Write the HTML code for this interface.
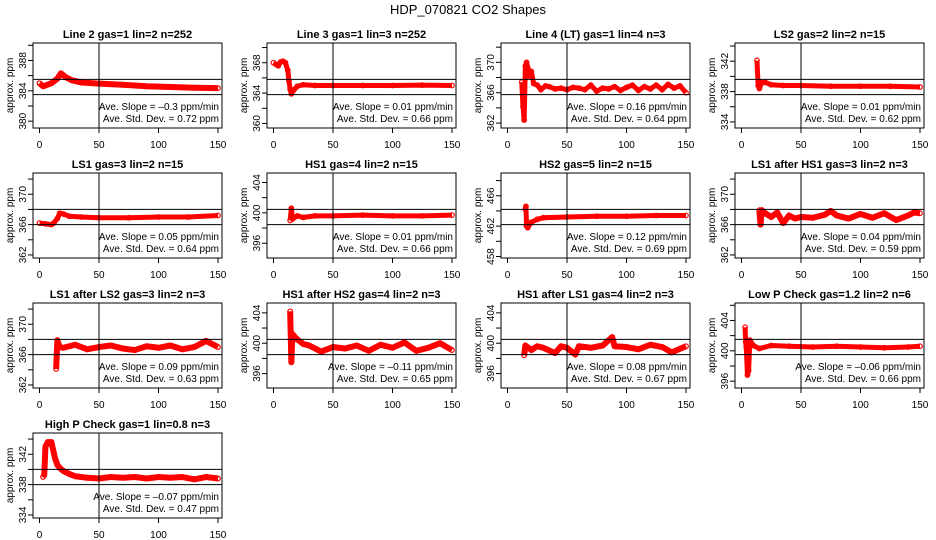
<!DOCTYPE html>
<html><head><meta charset="utf-8"><style>
body{margin:0;background:#fff;}
svg{display:block;font-family:"Liberation Sans",sans-serif;}
</style></head><body>
<svg id="chart" width="936" height="540" viewBox="0 0 936 540" xmlns="http://www.w3.org/2000/svg">
<rect width="936" height="540" fill="#fff"/>
<text x="468" y="14" text-anchor="middle" font-size="13">HDP_070821  CO2 Shapes</text>
</svg>
<script>
const titles=["Line 2 gas=1 lin=2 n=252","Line 3 gas=1 lin=3 n=252","Line 4 (LT) gas=1 lin=4 n=3","LS2 gas=2 lin=2 n=15","LS1 gas=3 lin=2 n=15","HS1 gas=4 lin=2 n=15","HS2 gas=5 lin=2 n=15","LS1 after HS1 gas=3 lin=2 n=3","LS1 after LS2 gas=3 lin=2 n=3","HS1 after HS2 gas=4 lin=2 n=3","HS1 after LS1 gas=4 lin=2 n=3","Low P Check gas=1.2 lin=2 n=6","High P Check gas=1 lin=0.8 n=3"];
const means=[384.5,364.8,366.75,338.6,367.0,399.45,463.2,367.0,367.0,399.5,399.5,400.5,339.0];
const yLabels=[[380,384,388],[360,364,368],[362,366,370],[334,338,342],[362,366,370],[396,400,404],[458,462,466],[362,366,370],[362,366,370],[396,400,404],[396,400,404],[396,400,404],[334,338,342]];
const slopes=["\u20130.3","0.01","0.16","0.01","0.05","0.01","0.12","0.04","0.09","\u20130.11","0.08","\u20130.06","\u20130.07"];
const stds=["0.72","0.66","0.64","0.62","0.64","0.66","0.69","0.59","0.63","0.65","0.67","0.66","0.47"];
const xTicks=[0,50,100,150];
const xs0=[0,3,5,10,15,18,22,27,35,50,70,90,110,130,150];
const ys0=[385.0,384.6,384.7,385.0,385.6,386.3,385.8,385.4,385.1,384.95,384.8,384.6,384.5,384.4,384.35];
const xs1=[0,2,4,6,8,10,12,13,14,15,17,20,25,35,50,75,100,125,150];
const ys1=[368.0,367.8,367.6,368.1,368.2,368.0,367.0,365.6,364.5,363.9,364.4,364.9,365.1,365.0,365.0,365.0,365.0,365.05,365.0];
const xs2=[12,13,14,15,16,17,18,20,22,25,28,32,35,40,45,50,55,60,65,70,75,80,85,90,95,100,105,110,115,120,125,130,135,140,145,150];
const ys2=[367.4,364.2,362.4,369.5,370.0,369.3,368.2,368.8,367.2,367.0,366.4,366.9,366.8,366.5,366.6,366.4,366.7,366.6,366.4,367.0,366.2,366.6,366.5,366.8,366.3,366.7,367.0,366.3,366.8,366.5,367.0,366.4,367.1,366.6,366.9,366.0];
const xs3=[13,14,15,17,20,25,35,50,75,100,125,150];
const ys3=[342.1,338.8,338.4,339.2,339.2,338.9,338.8,338.8,338.7,338.7,338.7,338.6];
const xs4=[0,5,10,12,15,17,20,25,35,50,75,100,125,150];
const ys4=[366.2,366.1,366.0,366.2,366.8,367.5,367.4,367.1,367.0,366.9,366.9,367.0,367.0,367.2];
const xs5=[14,15,16,20,25,35,50,75,100,125,150];
const ys5=[399.0,400.6,399.2,399.6,399.4,399.6,399.6,399.7,399.6,399.6,399.7];
const xs6=[15,15.5,16,17,20,25,30,50,75,100,125,150];
const ys6=[464.2,464.6,462.0,461.8,462.5,462.9,463.1,463.2,463.3,463.3,463.4,463.4];
const xs7=[15,16,17,20,25,30,35,40,45,50,60,70,75,80,90,100,110,120,130,140,145,150];
const ys7=[367.9,366.0,367.9,367.5,367.0,367.6,366.2,367.2,366.8,367.0,366.9,367.3,367.8,367.2,366.8,367.4,366.9,367.5,366.6,367.2,367.6,367.5];
const xs8=[14,15,17,20,25,30,40,50,60,70,80,90,100,110,120,130,140,150];
const ys8=[364.1,367.9,367.0,366.9,367.1,367.3,366.7,367.0,367.2,366.8,366.6,367.1,366.9,367.2,366.7,367.0,367.8,367.0];
const xs9=[14,15,15.5,16,18,20,25,30,40,50,60,70,80,90,100,110,120,130,140,150];
const ys9=[404.2,397.5,399.6,401.2,400.8,400.5,399.9,399.7,398.9,399.5,399.3,399.7,399.0,399.8,399.4,400.1,399.0,399.4,400.0,399.1];
const xs10=[14,15,20,25,30,40,45,50,57,60,70,80,88,90,100,110,120,130,138,150];
const ys10=[398.4,399.7,399.1,399.6,399.4,398.7,399.6,399.4,398.5,399.6,399.4,399.7,400.8,399.6,399.5,399.2,399.8,399.5,398.8,399.6];
const xs11=[3,3.5,4,5,6,7,10,15,25,40,60,80,100,120,140,150];
const ys11=[403.1,401.2,400.5,396.8,397.4,401.4,400.7,400.3,400.7,400.6,400.5,400.6,400.5,400.4,400.5,400.6];
const xs12=[3,4,5,7,10,12,13,15,17,20,25,30,40,50,60,70,80,90,100,110,120,130,140,150];
const ys12=[339.0,339.3,343.0,343.6,343.6,342.2,341.5,340.6,340.2,339.8,339.4,339.1,338.9,338.8,339.0,338.9,339.0,338.8,339.0,338.9,339.0,338.7,339.0,338.8];
const allX=[xs0,xs1,xs2,xs3,xs4,xs5,xs6,xs7,xs8,xs9,xs10,xs11,xs12];
const allY=[ys0,ys1,ys2,ys3,ys4,ys5,ys6,ys7,ys8,ys9,ys10,ys11,ys12];
const bandW=[6,5,5,5,5,5,5,6,6,6,6,5,6];

const svg=document.getElementById('chart');
const NS='http://www.w3.org/2000/svg';
function mk(tag,attrs,parent){const e=document.createElementNS(NS,tag);for(const k in attrs)e.setAttribute(k,attrs[k]);parent.appendChild(e);return e;}
const L=33,R=222,T=23,B=108;
for(let i=0;i<13;i++){
  const col=i%4,row=Math.floor(i/4);
  const g=mk('g',{transform:`translate(${234*col},${20+130*row})`},svg);
  
  
  const m=means[i];
  const yTop=m+5.8,yBot=m-5.4;
  const sx=v=>39.5+v*(218-39.5)/150;
  const sy=v=>T+(yTop-v)*(B-T)/(yTop-yBot);
  const t=mk('text',{x:127.5,y:18,'text-anchor':'middle','font-size':11,'font-weight':'bold'},g);t.textContent=titles[i];
  
  
  const box=mk('rect',{x:L,y:T,width:R-L,height:B-T,fill:'none',stroke:'#000','stroke-width':1},g);
  
  
  const xsA=allX[i],ysA=allY[i];
  const pl=mk('polyline',{points:xsA.map((x,j)=>sx(x)+','+sy(ysA[j])).join(' '),fill:'none',stroke:'#f00','stroke-width':bandW[i],'stroke-linejoin':'round'},g);
  
  
  xsA.forEach((x,j)=>{const c=mk('circle',{cx:sx(x),cy:sy(ysA[j]),r:2.3,fill:'none',stroke:'#f00','stroke-width':1.2},g);
    
    });
  const vl=mk('line',{x1:sx(50),x2:sx(50),y1:T,y2:B,stroke:'#000'},g);
  
  
  [m+1,m-1].forEach(h=>{const hl=mk('line',{x1:L,x2:R,y1:sy(h),y2:sy(h),stroke:'#000'},g);
    
    });
  xTicks.forEach(v=>{mk('line',{x1:sx(v),x2:sx(v),y1:B,y2:B+5,stroke:'#000'},g);
    const tx=mk('text',{x:sx(v),y:128,'text-anchor':'middle','font-size':10},g);tx.textContent=v;
    
    });
  const yl=yLabels[i];
  for(let v=yl[0]-2;v<=yl[2]+2;v+=2){if(v<yBot||v>yTop)continue;mk('line',{x1:L-5,x2:L,y1:sy(v),y2:sy(v),stroke:'#000'},g);}
  yl.forEach(v=>{const ty=mk('text',{x:0,y:0,'text-anchor':'middle','font-size':10,transform:`translate(26,${sy(v)}) rotate(-90)`},g);ty.textContent=v;
    
    });
  const ya=mk('text',{x:0,y:0,'text-anchor':'middle','font-size':10,transform:`translate(13,${(T+B)/2}) rotate(-90)`},g);ya.textContent='approx. ppm';
  
  
  const s1=mk('text',{x:219,y:90,'text-anchor':'end','font-size':10},g);s1.textContent='Ave. Slope =  '+slopes[i]+'  ppm/min';
  
  
  const s2=mk('text',{x:219,y:102,'text-anchor':'end','font-size':10},g);s2.textContent='Ave. Std. Dev. =  '+stds[i]+'  ppm';
  
  
}
</script>
</body></html>
